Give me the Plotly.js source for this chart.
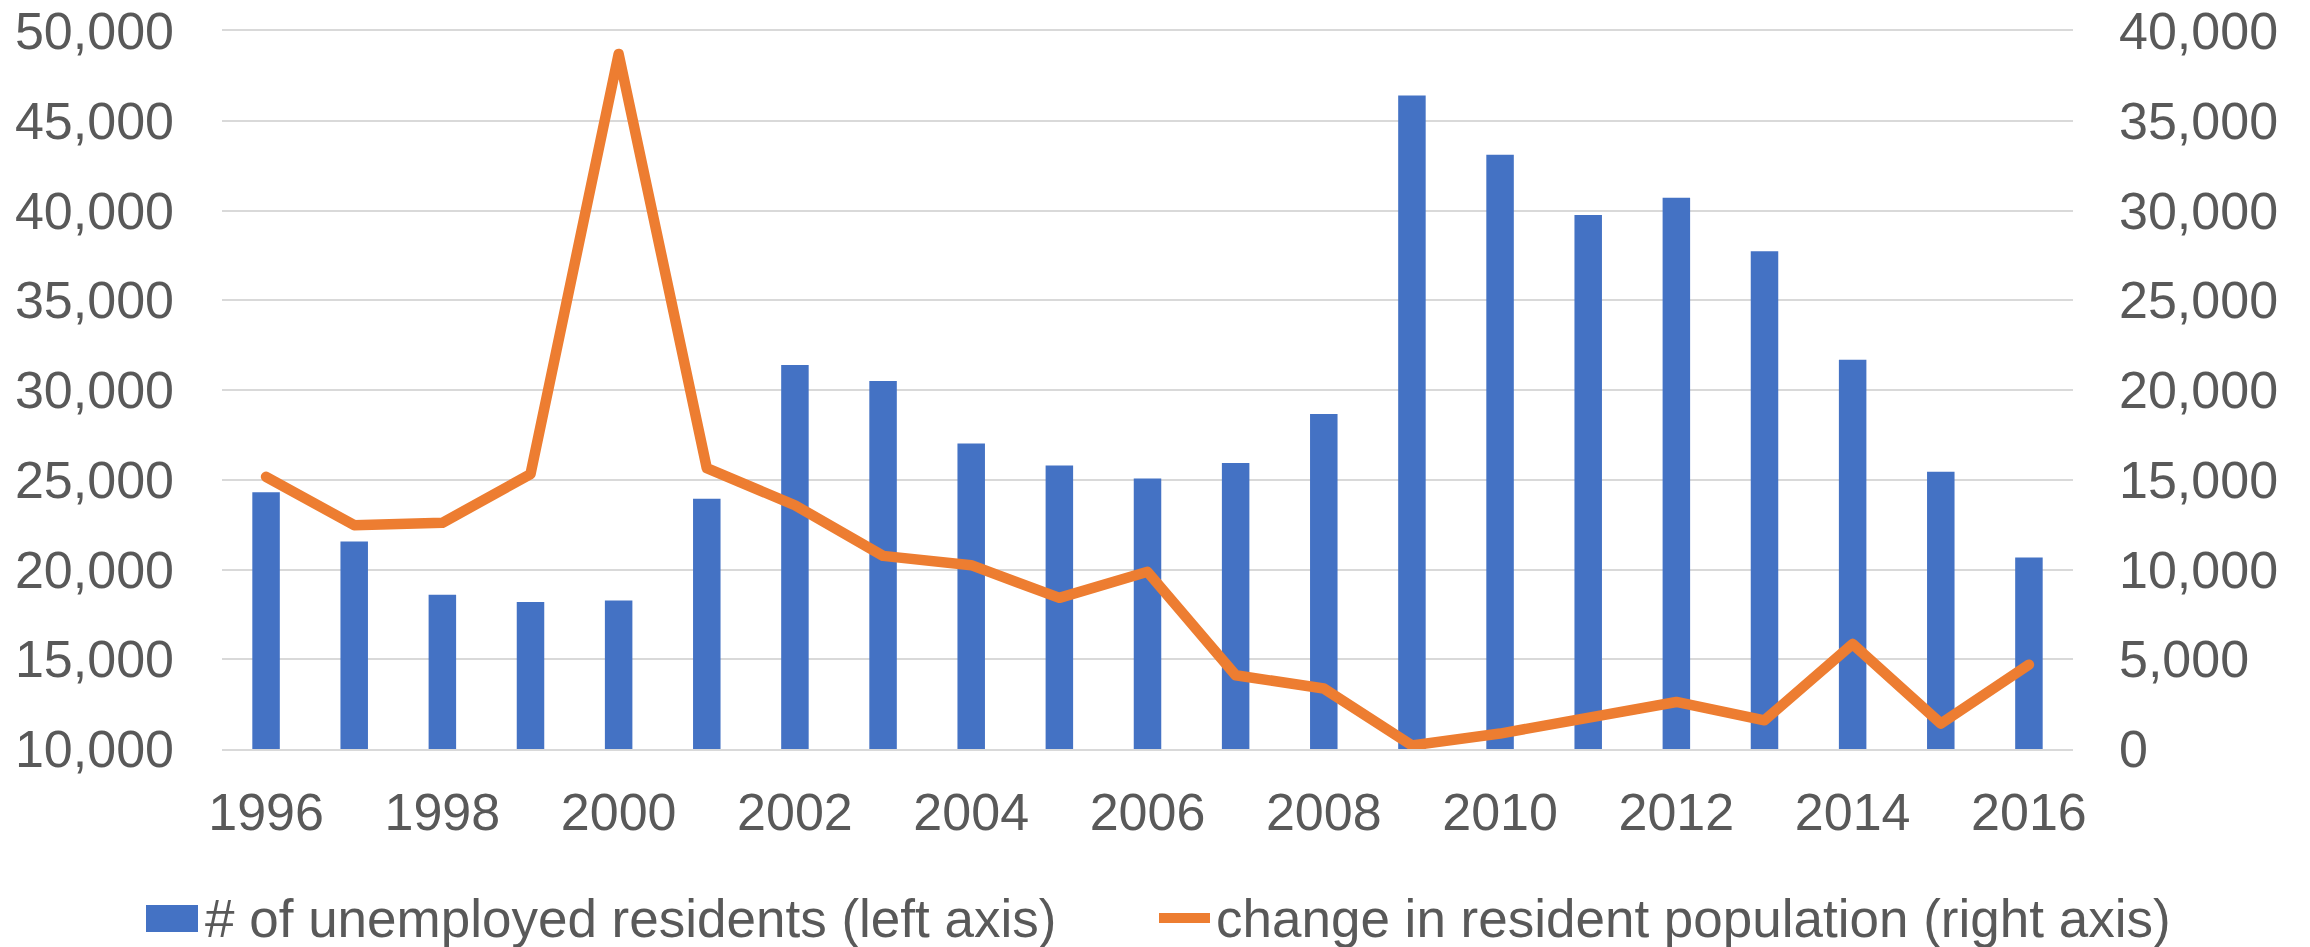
<!DOCTYPE html>
<html>
<head>
<meta charset="utf-8">
<script src="https://cdn.plot.ly/plotly-3.0.1.min.js"></script>
<style>
html, body { margin: 0; padding: 0; background: #fff; }
#chart { width: 2310px; height: 947px; }
.js-line { stroke-linejoin: round; stroke-linecap: round; }
</style>
</head>
<body>
<div id="chart"></div>
<script>
// Data
const years = [1996, 1997, 1998, 1999, 2000, 2001, 2002, 2003, 2004, 2005, 2006,
               2007, 2008, 2009, 2010, 2011, 2012, 2013, 2014, 2015, 2016];
const unemployedResidents = [24310, 21560, 18590, 18190, 18270, 23940, 31390, 30500, 27020, 25800, 25070,
                             25930, 28660, 46400, 43110, 39750, 40710, 37730, 31680, 25440, 20670];
const populationChange = [15160, 12470, 12600, 15310, 38720, 15650, 13580, 10760, 10240, 8420, 9870,
                          4110, 3370, 200, 860, 1690, 2620, 1600, 5850, 1420, 4700];
const leftTicks = [10000, 15000, 20000, 25000, 30000, 35000, 40000, 45000, 50000];
const rightTicks = [0, 5000, 10000, 15000, 20000, 25000, 30000, 35000, 40000];
const xTicks = [1996, 1998, 2000, 2002, 2004, 2006, 2008, 2010, 2012, 2014, 2016];
const barName = '# of unemployed residents (left axis)';
const lineName = 'change in resident population (right axis)';

const fmt = v => v.toLocaleString('en-US');
const textColor = '#595959';
const font = { family: 'Liberation Sans, Arial, sans-serif', size: 52, color: textColor };
const legendFont = { family: 'Liberation Sans, Arial, sans-serif', size: 53, color: textColor };

const traces = [
  {
    type: 'bar', x: years, y: unemployedResidents, name: barName,
    marker: { color: '#4472C4' }, yaxis: 'y', showlegend: false,
    hoverinfo: 'x+y'
  },
  {
    type: 'scatter', mode: 'lines', x: years, y: populationChange, name: lineName,
    line: { color: '#ED7D31', width: 10.5 }, yaxis: 'y2', showlegend: false,
    hoverinfo: 'x+y'
  }
];

// plot area in pixels: x 222..2073, y 31..749
const L = 222, R = 2073, T = 31, B = 749;
const px = v => (v - L) / (R - L);
const py = v => (B - v) / (B - T);

const layout = {
  width: 2310, height: 947,
  margin: { l: L, r: 2310 - R, t: T, b: 947 - B, pad: 0 },
  paper_bgcolor: '#ffffff', plot_bgcolor: '#ffffff',
  font: font,
  bargap: 0.688,
  showlegend: false,
  xaxis: {
    range: [1995.5, 2016.5], tickmode: 'array', tickvals: xTicks, ticktext: xTicks.map(String),
    showgrid: false, zeroline: false, showline: true, mirror: true,
    linecolor: '#D9D9D9', linewidth: 2, ticks: '',
    tickfont: font, ticklabelstandoff: 17, fixedrange: true
  },
  yaxis: {
    range: [10000, 50000], tickmode: 'array', tickvals: leftTicks, ticktext: leftTicks.map(fmt),
    showgrid: true, gridcolor: '#D9D9D9', gridwidth: 2, zeroline: false, showline: false, ticks: '',
    tickfont: font, ticklabelstandoff: 47, fixedrange: true
  },
  yaxis2: {
    range: [0, 40000], overlaying: 'y', side: 'right', tickmode: 'array',
    tickvals: rightTicks, ticktext: rightTicks.map(fmt),
    showgrid: false, zeroline: false, showline: false, ticks: '',
    tickfont: font, ticklabelstandoff: 45, fixedrange: true
  },
  shapes: [
    { type: 'rect', xref: 'paper', yref: 'paper', x0: px(146), x1: px(198), y0: py(932), y1: py(905),
      fillcolor: '#4472C4', line: { width: 0 } },
    { type: 'line', xref: 'paper', yref: 'paper', x0: px(1159), x1: px(1210), y0: py(918), y1: py(918),
      line: { color: '#ED7D31', width: 10 } }
  ],
  annotations: [
    { xref: 'paper', yref: 'paper', x: px(203), y: py(918), xanchor: 'left', yanchor: 'middle',
      text: barName, showarrow: false, font: legendFont },
    { xref: 'paper', yref: 'paper', x: px(1214), y: py(918), xanchor: 'left', yanchor: 'middle',
      text: lineName, showarrow: false, font: legendFont }
  ]
};

Plotly.newPlot('chart', traces, layout, { displayModeBar: false, staticPlot: true });
</script>
</body>
</html>
